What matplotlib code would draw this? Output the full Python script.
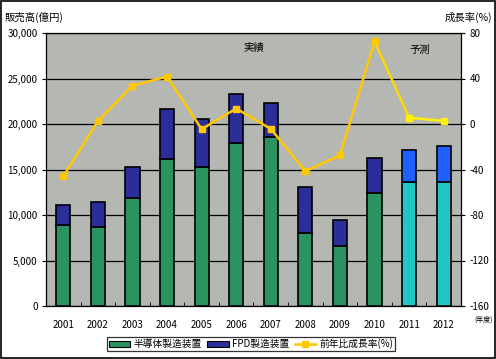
import matplotlib
matplotlib.use("Agg")
import matplotlib.pyplot as plt
import numpy as np
from matplotlib.patches import Patch
from matplotlib.lines import Line2D

plt.rcParams['font.family'] = ['Noto Sans CJK JP', 'DejaVu Sans']
plt.rcParams['axes.unicode_minus'] = False

years = ['2001', '2002', '2003', '2004', '2005', '2006', '2007', '2008', '2009', '2010', '2011', '2012']
semi = [8900, 8650, 11830, 16100, 15300, 17880, 18540, 8020, 6630, 12450, 13630, 13630]
total = [11150, 11400, 15240, 21600, 20500, 23260, 22270, 13040, 9450, 16230, 17110, 17580]
growth = [-46, 2.5, 33.7, 41.7, -4.5, 13.6, -4.3, -41.5, -27.5, 72.6, 5.5, 2.7]
n_actual = 10

fpd = [t - s for t, s in zip(total, semi)]

fig = plt.figure(figsize=(4.96, 3.59), dpi=100)
fig.patch.set_facecolor('white')
ax = fig.add_axes([46/496, 1-306/359, 415/496, 273/359])
ax.set_facecolor('#B5B7B3')

x = np.arange(len(years))
green_c = ['#2A9460'] * n_actual + ['#22C6C6'] * (len(years) - n_actual)
blue_c = ['#2B2E98'] * n_actual + ['#2060FF'] * (len(years) - n_actual)
w = 0.41
ax.bar(x, semi, width=w, color=green_c, edgecolor='black', linewidth=1.2, zorder=3)
ax.bar(x, fpd, bottom=semi, width=w, color=blue_c, edgecolor='black', linewidth=1.2, zorder=3)

ax.set_xlim(-0.5, len(years) - 0.5)
ax.set_ylim(0, 30000)
ax.set_yticks(np.arange(0, 30001, 5000))
ax.set_yticklabels(['0', '5,000', '10,000', '15,000', '20,000', '25,000', '30,000'], fontsize=7)
ax.yaxis.grid(True, color='black', linewidth=0.9, zorder=1)
ax.set_axisbelow(True)
ax.set_xticks(x)
ax.set_xticklabels(years, fontsize=7)
ax.set_xticks(np.arange(-0.5, len(years), 1), minor=True)
ax.tick_params(axis='x', which='major', length=0, pad=10)
ax.tick_params(axis='x', which='minor', length=3, direction='in')
ax.tick_params(axis='y', length=3, direction='out', pad=3)
for s in ax.spines.values():
    s.set_color('black')
    s.set_linewidth(0.9)

ax2 = ax.twinx()
ax2.set_ylim(-160, 80)
ax2.set_yticks(np.arange(-160, 81, 40))
ax2.set_yticklabels([str(v) for v in range(-160, 81, 40)], fontsize=7)
ax2.tick_params(axis='y', length=3, direction='out', pad=3)
ax2.patch.set_visible(False)
for s in ax2.spines.values():
    s.set_visible(False)

ax2.plot(x[:n_actual], growth[:n_actual], color='#FFC800', linewidth=1.8,
         marker='s', markersize=5, markerfacecolor='#FFC800', markeredgecolor='#FFC800', zorder=5)
ax2.plot(x[n_actual - 1:n_actual + 1], growth[n_actual - 1:n_actual + 1], color='#FFD800', linewidth=1.8, zorder=4)
ax2.plot(x[n_actual:], growth[n_actual:], color='#FFF200', linewidth=1.8,
         marker='s', markersize=5, markerfacecolor='#FFF200', markeredgecolor='#FFF200', zorder=5)

fig.text(5/496, 1-17/359, '販売高(億円)', fontsize=7.5, va='center', ha='left')
fig.text(492/496, 1-17/359, '成長率(%)', fontsize=7.5, va='center', ha='right')
fig.text(243/496, 1-48/359, '実績', fontsize=7.5, va='center', ha='left')
fig.text(409/496, 1-50/359, '予測', fontsize=7.5, va='center', ha='left')
fig.text(474/496, 1-320/359, '(年度)', fontsize=5, va='center', ha='left')

handles = [Patch(facecolor='#2A9460', edgecolor='black', linewidth=0.8),
           Patch(facecolor='#2B2E98', edgecolor='black', linewidth=0.8),
           Line2D([0], [0], color='#FFC800', linewidth=1.8, marker='s', markersize=4)]
leg = fig.legend(handles, ['半導体製造装置', 'FPD製造装置', '前年比成長率(%)'],
                 loc='center', bbox_to_anchor=(251/496, 1-344/359), ncol=3, fontsize=7,
                 frameon=True, fancybox=False, borderpad=0.2, handlelength=2.2,
                 handletextpad=0.3, columnspacing=0.6, handleheight=0.6)
leg.get_frame().set_edgecolor('black')
leg.get_frame().set_linewidth(0.9)

border = plt.Rectangle((0.002, 0.003), 0.995, 0.994, transform=fig.transFigure,
                       fill=False, edgecolor='black', linewidth=1.2)
fig.patches.append(border)

fig.savefig('out.png', dpi=100)
